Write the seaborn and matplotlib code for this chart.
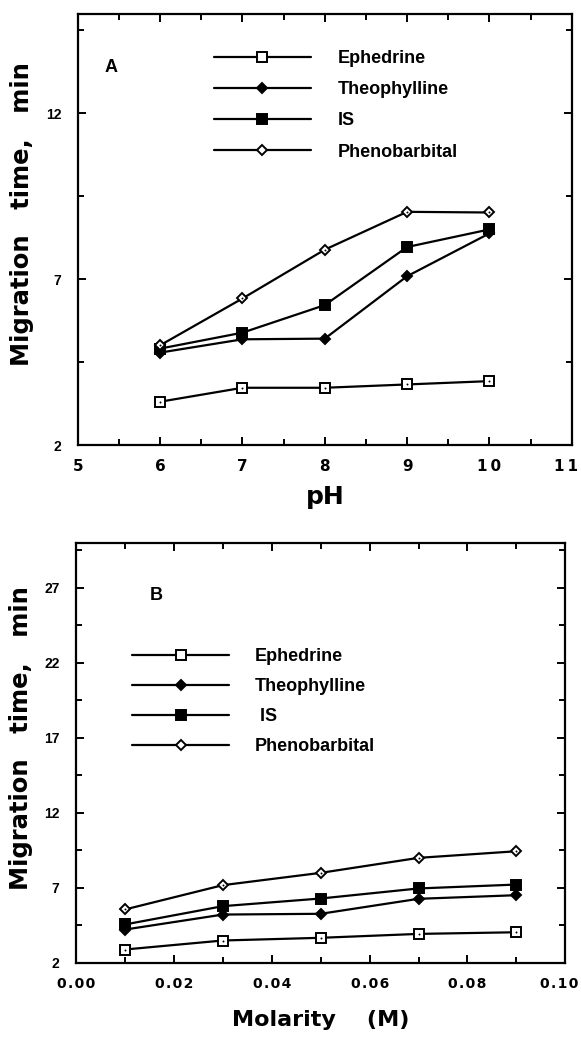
import numpy as np
import pandas as pd
import matplotlib
matplotlib.use("Agg")
import matplotlib.pyplot as plt
from matplotlib.ticker import FixedLocator, MultipleLocator
from matplotlib.transforms import offset_copy
import seaborn as sns

# panel A: migration time vs pH
ph = [6, 7, 8, 9, 10]
a_ephedrine = [3.31, 3.73, 3.73, 3.83, 3.93]
a_theophylline = [4.79, 5.19, 5.21, 7.09, 8.38]
a_is = [4.91, 5.39, 6.22, 7.97, 8.50]
a_phenobarbital = [5.01, 6.42, 7.89, 9.03, 9.01]

# panel B: migration time vs molarity
molarity = [0.01, 0.03, 0.05, 0.07, 0.09]
b_ephedrine = [2.89, 3.49, 3.67, 3.93, 4.04]
b_theophylline = [4.22, 5.22, 5.27, 6.27, 6.51]
b_is = [4.56, 5.78, 6.29, 6.96, 7.22]
b_phenobarbital = [5.56, 7.18, 8.00, 9.00, 9.44]

names = ["Ephedrine", "Theophylline", "IS", "Phenobarbital"]
a_ticks = ["5", "6", "7", "8", "9", "1\u20090", "1\u20091"]
b_ticks = ["0.00", "0.02", "0.04", "0.06", "0.08", "0.10"]

sns.set_style("ticks")
plt.rcParams["font.family"] = ["Liberation Sans", "DejaVu Sans"]
plt.rcParams["text.color"] = "black"
plt.rcParams["axes.labelcolor"] = "black"

# marker, face colour
styles = {
    "Ephedrine": ("s", "white"),
    "Theophylline": ("D", "black"),
    "IS": ("s", "black"),
    "Phenobarbital": ("D", "white"),
}


def draw(ax, x, series, legend_labels):
    for name, y in zip(names, series):
        m, fc = styles[name]
        ms = 6.5 if m == "s" else 5.5
        sns.lineplot(x=x, y=y, ax=ax, color="black", lw=1.6, marker=m,
                     markersize=ms, markerfacecolor=fc, markeredgecolor="black",
                     markeredgewidth=1.4, label=legend_labels[name])
        if fc == "white":
            sns.scatterplot(x=x, y=y, ax=ax, color="black", s=2, linewidth=0,
                            legend=False, zorder=5)


def style_axes(ax):
    for s in ax.spines.values():
        s.set_linewidth(1.6)
        s.set_color("black")
    ax.tick_params(which="both", direction="in", top=True, right=True,
                   width=1.4, colors="black")
    ax.tick_params(which="major", length=6)
    ax.tick_params(which="minor", length=4)
    ax.tick_params(axis="y", pad=12)
    ax.tick_params(axis="x", pad=10)
    ax.set_ylabel("Migration   time,   min", fontsize=17.5, fontweight="bold",
                  family=["DejaVu Sans"])
    ax.yaxis.set_label_coords(-0.088, 0.535)
    for t in ax.get_yticklabels():
        t.set_fontweight("bold")
        t.set_fontsize(10)
    for t in ax.get_xticklabels():
        t.set_fontfamily(["DejaVu Sans"])
        t.set_fontweight("bold")
        t.set_fontsize(11)


def pull_last_label(ax, px):
    # keep the label at the right edge inside the figure
    lab = ax.get_xticklabels()[-1]
    lab.set_horizontalalignment("right")
    lab.set_transform(offset_copy(lab.get_transform(), fig=ax.figure, x=px, y=0,
                                  units="dots"))


leg_font = {"family": ["Liberation Sans", "DejaVu Sans"], "weight": "bold", "size": 13}

fig = plt.figure(figsize=(5.81, 10.5), dpi=100)
ax1 = fig.add_axes([0.134, 0.576, 0.850, 0.411])
ax2 = fig.add_axes([0.131, 0.083, 0.842, 0.400])

lab = {n: n for n in names}
draw(ax1, ph, [a_ephedrine, a_theophylline, a_is, a_phenobarbital], lab)
ax1.set_xlim(5, 11)
ax1.set_ylim(2, 15)
ax1.xaxis.set_major_locator(FixedLocator([5, 6, 7, 8, 9, 10, 11]))
ax1.set_xticklabels(a_ticks)
ax1.xaxis.set_minor_locator(MultipleLocator(0.5))
ax1.yaxis.set_major_locator(FixedLocator([2, 7, 12]))
ax1.yaxis.set_minor_locator(FixedLocator([4.5, 9.5, 14.5]))
ax1.set_xlabel("pH", fontsize=18, fontweight="bold", family=["DejaVu Sans"], labelpad=8)
style_axes(ax1)
pull_last_label(ax1, 6)
ax1.text(0.055, 0.865, "A", transform=ax1.transAxes, fontsize=13, fontweight="bold")
ax1.legend(loc="upper left", bbox_to_anchor=(0.275, 0.915), frameon=False,
           handlelength=5.4, handletextpad=1.5, labelspacing=0.78,
           borderpad=0, borderaxespad=0, prop=leg_font)

lab2 = dict(lab)
lab2["IS"] = " IS"
draw(ax2, molarity, [b_ephedrine, b_theophylline, b_is, b_phenobarbital], lab2)
ax2.set_xlim(0, 0.10)
ax2.set_ylim(2, 30)
ax2.xaxis.set_major_locator(FixedLocator([0, 0.02, 0.04, 0.06, 0.08, 0.10]))
ax2.set_xticklabels(["\u200a".join(t) for t in b_ticks])
ax2.xaxis.set_minor_locator(MultipleLocator(0.01))
ax2.yaxis.set_major_locator(FixedLocator([2, 7, 12, 17, 22, 27]))
ax2.yaxis.set_minor_locator(FixedLocator([4.5, 9.5, 14.5, 19.5, 24.5, 29.5]))
ax2.set_xlabel("Molarity    (M)", fontsize=16, fontweight="bold", family=["DejaVu Sans"],
               labelpad=14)
style_axes(ax2)
for t in ax2.get_xticklabels():
    t.set_fontsize(10)
pull_last_label(ax2, 13)
ax2.text(0.15, 0.865, "B", transform=ax2.transAxes, fontsize=13, fontweight="bold")
ax2.legend(loc="upper left", bbox_to_anchor=(0.114, 0.75), frameon=False,
           handlelength=5.4, handletextpad=1.4, labelspacing=0.72,
           borderpad=0, borderaxespad=0, prop=leg_font)

fig.savefig("out.png", dpi=100, facecolor="white")
